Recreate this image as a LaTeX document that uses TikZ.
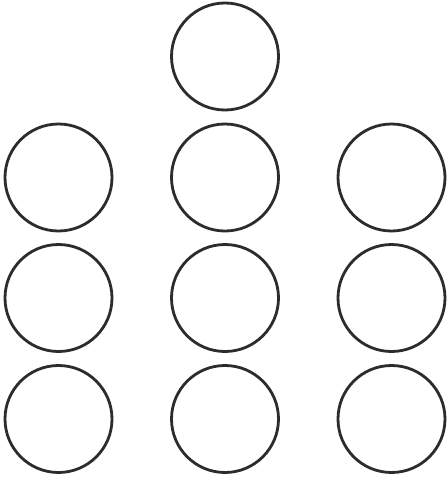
\documentclass[tikz,border=0pt]{standalone}
\definecolor{ring}{HTML}{2C2C2C}
\tikzset{ringnode/.style={circle,draw=ring,line width=2.8pt,minimum size=107pt,inner sep=0pt}}
\begin{document}
\begin{tikzpicture}[x=1pt,y=-1pt]
\useasboundingbox[fill=white] (0,0) rectangle (447,479);
\node[ringnode] (top) at (225,56.5) {};
\node[ringnode] (a1) at (58.5,177.5) {};
\node[ringnode] (b1) at (225,177.5) {};
\node[ringnode] (c1) at (391.5,177.5) {};
\node[ringnode] (a2) at (58.5,298) {};
\node[ringnode] (b2) at (225,298) {};
\node[ringnode] (c2) at (391.5,298) {};
\node[ringnode] (a3) at (58.5,419) {};
\node[ringnode] (b3) at (225,419) {};
\node[ringnode] (c3) at (391.5,419) {};
\end{tikzpicture}
\end{document}
